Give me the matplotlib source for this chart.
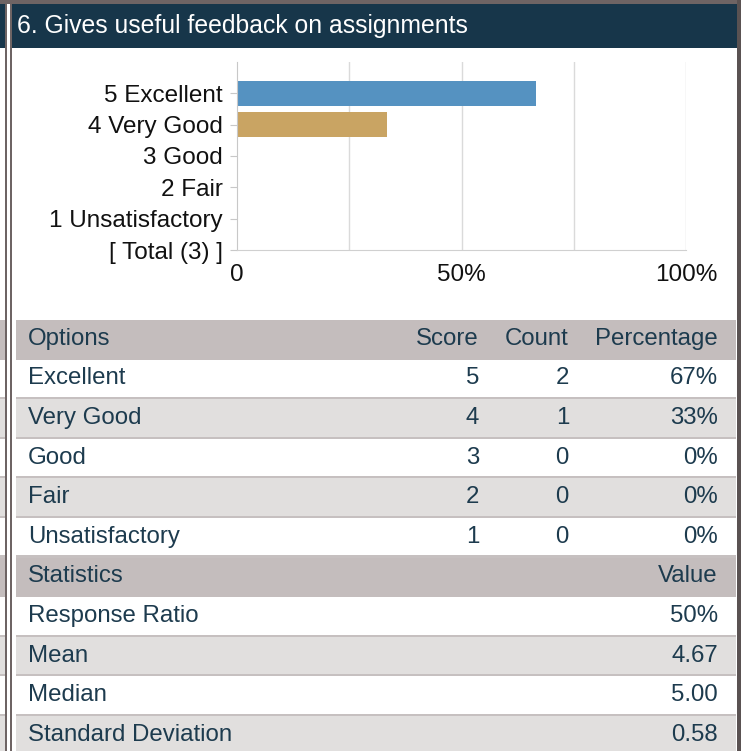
import matplotlib
matplotlib.use("Agg")
import matplotlib.pyplot as plt
from matplotlib.patches import Rectangle

plt.rcParams['font.family'] = ['Liberation Sans', 'DejaVu Sans']

# ---------------- data ----------------
title = "6. Gives useful feedback on assignments"
options = ["Excellent", "Very Good", "Good", "Fair", "Unsatisfactory"]
scores = [5, 4, 3, 2, 1]
counts = [2, 1, 0, 0, 0]
percent_labels = ["67%", "33%", "0%", "0%", "0%"]
total_label = "[ Total (3) ]"
bar_colors = ["#5592C1", "#C9A463", "#8FB35A", "#B35A5A", "#7A6FA8"]
stat_names = ["Response Ratio", "Mean", "Median", "Standard Deviation"]
stat_values = ["50%", "4.67", "5.00", "0.58"]
x_ticks = [0, 50, 100]
x_tick_labels = ["0", "50%", "100%"]
grid_ticks = [25, 50, 75, 100]

W, H = 741, 751
DPI = 100
fig = plt.figure(figsize=(W / DPI, H / DPI), dpi=DPI)
fig.patch.set_facecolor("white")

# overlay in pixel coordinates
ov = fig.add_axes([0, 0, 1, 1], zorder=0)
ov.set_xlim(0, W)
ov.set_ylim(H, 0)
ov.axis("off")

NAVY = "#17364A"
HEAD = "#C4BDBD"
ALT = "#E1DFDE"
SEP = "#C6C0C0"
BORDER = "#6E6464"
TXT = "#1D3B4E"

def rect(x, y, w, h, c, z=1):
    ov.add_patch(Rectangle((x, y), w, h, facecolor=c, edgecolor="none", zorder=z))

# title bar
rect(0, 0, W, 3.5, BORDER)
rect(0, 3.5, 5, 44.5, NAVY)
rect(12, 3.5, 725, 44.5, NAVY)
ov.text(17, 26.5, title, color="white", fontsize=17.8, va="center", ha="left", zorder=3)

# table rows
top = 320.0
pitch = 39.6
rows = [("head", ["Options", "Score", "Count", "Percentage"])]
for o, s, c, p in zip(options, scores, counts, percent_labels):
    rows.append(("opt", [o, str(s), str(c), p]))
rows.append(("head2", ["Statistics", "Value"]))
for n, v in zip(stat_names, stat_values):
    rows.append(("stat", [n, v]))

alt_index = 0
for i, (kind, cells) in enumerate(rows):
    y0 = top + i * pitch
    if kind.startswith("head"):
        col = HEAD
        alt_index = 0
    else:
        col = "white" if alt_index % 2 == 0 else ALT
        alt_index += 1
    rect(16, y0, 720, pitch, col)
    rect(0, y0, 4.5, pitch, col)
    if not kind.startswith("head"):
        rect(16, y0 + pitch - 2.2, 720, 2.2, SEP, z=2)
        rect(0, y0 + pitch - 2.2, 4.5, 2.2, SEP, z=2)
    yc = y0 + pitch / 2 - 1
    fs = 17.3
    ov.text(28, yc, cells[0], color=TXT, fontsize=fs, va="center", ha="left", zorder=3)
    if len(cells) == 4:
        ov.text(479, yc, cells[1], color=TXT, fontsize=fs, va="center", ha="right", zorder=3)
        ov.text(569, yc, cells[2], color=TXT, fontsize=fs, va="center", ha="right", zorder=3)
        ov.text(718, yc, cells[3], color=TXT, fontsize=fs, va="center", ha="right", zorder=3)
    else:
        ov.text(718, yc, cells[1], color=TXT, fontsize=fs, va="center", ha="right", zorder=3)

# borders
rect(5, 0, 2, H, BORDER, z=4)
rect(10, 0, 2, H, BORDER, z=4)
rect(737, 0, 4, H, "#5A5252", z=4)

# ---------------- bar chart ----------------
ax_l, ax_r, ax_t, ax_b = 237, 686, 62, 250
ax = fig.add_axes([ax_l / W, 1 - ax_b / H, (ax_r - ax_l) / W, (ax_b - ax_t) / H], zorder=2)
ax.set_facecolor("none")

cats = [f"{s} {o}" for s, o in zip(scores, options)] + [total_label]
total = sum(counts)
pct = [100.0 * c / total for c in counts]
ypos = list(range(len(cats)))
ax.barh(ypos[:len(options)], pct, height=0.78, color=bar_colors, zorder=2)
ax.set_ylim(5, -1)
ax.set_xlim(0, 100)
ax.set_yticks(ypos)
ax.set_yticklabels(cats)
ax.set_xticks(x_ticks)
ax.set_xticklabels(x_tick_labels)
for g in grid_ticks:
    ax.axvline(g, color="#DADADA", lw=1, zorder=1)
for s in ["top", "right"]:
    ax.spines[s].set_visible(False)
ax.spines["left"].set_color("#C8C8C8")
ax.spines["bottom"].set_color("#D0D0D0")
ax.tick_params(axis="y", length=5, color="#C8C8C8", pad=5, labelsize=17.5, labelcolor="#111111")
ax.tick_params(axis="x", length=0, pad=10, labelsize=17.5, labelcolor="#111111")

fig.savefig("out.png", dpi=DPI, facecolor="white")
